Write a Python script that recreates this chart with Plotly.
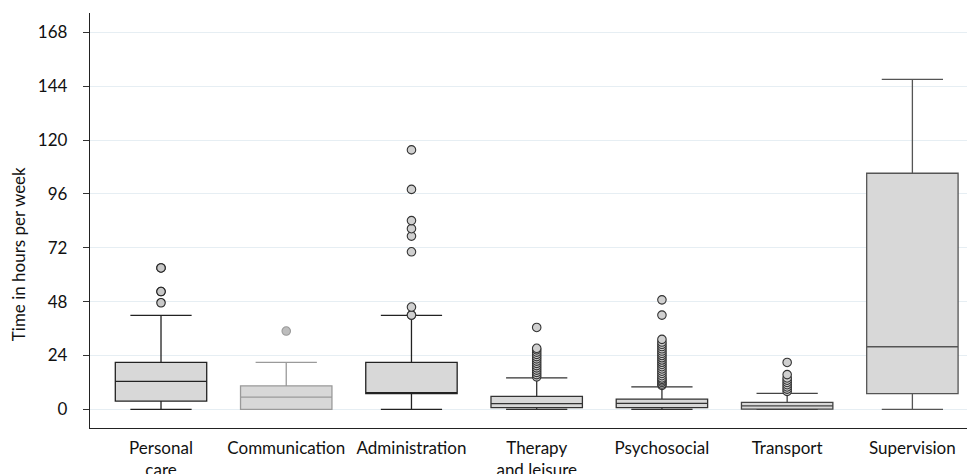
import plotly.graph_objects as go

categories = ["Personal<br>care", "Communication", "Administration", "Therapy<br>and leisure",
              "Psychosocial", "Transport", "Supervision"]
q1 = [3.7, 0.0, 7.0, 0.8, 0.8, 0.1, 7.0]
median = [12.5, 5.5, 7.0, 2.6, 2.7, 1.6, 27.9]
q3 = [20.9, 10.5, 20.9, 5.8, 4.6, 3.1, 105.2]
lower = [0.0, 0.0, 0.0, 0.0, 0.0, 0.0, 0.0]
upper = [41.9, 20.9, 41.9, 14.0, 10.0, 7.1, 147.0]
outliers = [
    [47.5, 52.5, 52.5, 63.0, 63.0],
    [34.9],
    [42.0, 42.0, 45.6, 70.2, 77.2, 80.5, 84.1, 98.0, 115.6],
    [14.5, 15.5, 16.5, 17.5, 18.5, 19.5, 20.5, 21.5, 22.5, 23.5, 24.5, 25.5, 26.5, 27.2, 36.5],
    [10.7, 11.3, 12.0, 12.7, 13.4, 14.0, 15.0, 16.0, 17.0, 18.0, 19.0, 20.0, 21.0, 22.0,
     23.0, 24.0, 25.0, 26.0, 27.0, 28.0, 29.0, 30.0, 31.2, 42.0, 48.8],
    [8.0, 9.0, 10.0, 11.0, 12.0, 13.0, 14.0, 15.5, 20.9],
    [],
]
yticks = [0, 24, 48, 72, 96, 120, 144, 168]
y_title = "Time in hours per week"

line_colors = ["#222222", "#9a9a9a", "#222222", "#333333", "#333333", "#444444", "#555555"]
pt_fill = ["#c8c8c8", "#bdbdbd", "#d0d0d0", "#d0d0d0", "#d0d0d0", "#d0d0d0", "#d0d0d0"]
pt_line = ["#222222", "#9a9a9a", "#333333", "#333333", "#333333", "#333333", "#333333"]

fig = go.Figure()
for i, c in enumerate(categories):
    fig.add_trace(go.Box(
        x=[c], q1=[q1[i]], median=[median[i]], q3=[q3[i]],
        lowerfence=[lower[i]], upperfence=[upper[i]],
        fillcolor="#d8d8d8", line=dict(color=line_colors[i], width=1.3),
        width=0.73, whiskerwidth=0.67, boxpoints=False, showlegend=False,
        hoverinfo="skip",
    ))
    if outliers[i]:
        fig.add_trace(go.Scatter(
            x=[c] * len(outliers[i]), y=outliers[i], mode="markers",
            marker=dict(size=8.5, color=pt_fill[i], line=dict(color=pt_line[i], width=1.1)),
            showlegend=False, hoverinfo="skip",
        ))

# the page body adds an 8px offset, so the figure is 8px smaller each way
fig.update_layout(
    width=967, height=466,
    margin=dict(l=82, r=0, t=5, b=46),
    paper_bgcolor="white", plot_bgcolor="white",
    font=dict(family="Lato", size=17, color="#111111"),
)
fig.update_xaxes(
    type="category", categoryorder="array", categoryarray=categories,
    range=[-0.567, 6.5], showline=True, linecolor="#222222", linewidth=1.3,
    showgrid=False, ticks="", tickfont=dict(size=17), automargin=False,
    ticklabelstandoff=4,
)
fig.update_yaxes(
    range=[-8.3, 176.6], tickvals=yticks, ticktext=[str(v) for v in yticks],
    showline=True, linecolor="#222222", linewidth=1.3,
    showgrid=True, gridcolor="#e6eef3", gridwidth=1, zeroline=False,
    ticks="outside", ticklen=6, tickcolor="#333333", tickwidth=1,
    ticklabelstandoff=12, tickfont=dict(size=17), automargin=False,
)
fig.add_annotation(
    text=y_title, textangle=-90, xref="paper", yref="paper",
    x=-0.0808, y=0.42, xanchor="center", yanchor="middle",
    showarrow=False, font=dict(size=17, color="#111111"),
)

fig.write_html("out.html")
